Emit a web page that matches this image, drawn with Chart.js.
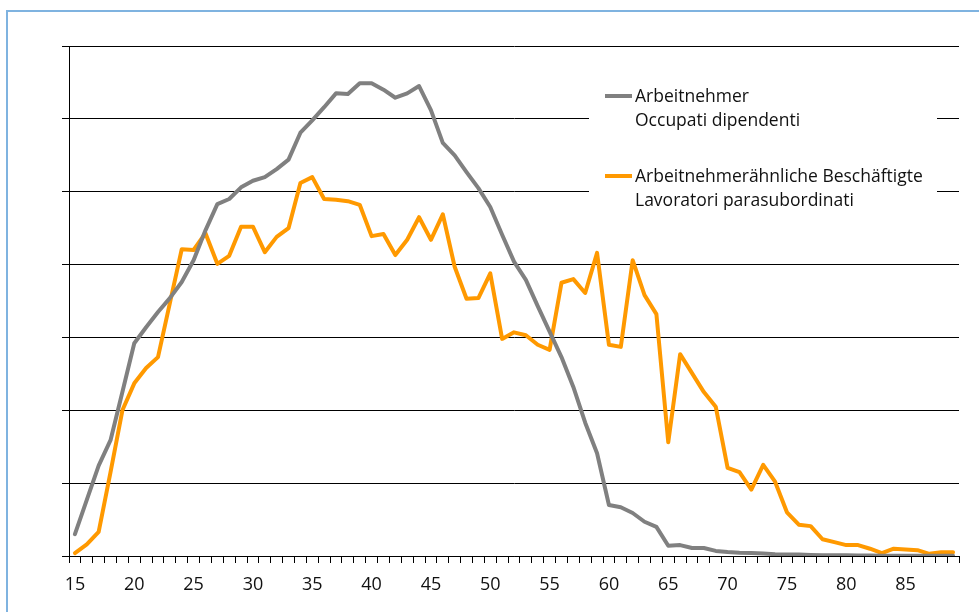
<!DOCTYPE html>
<html>
<head>
<meta charset="utf-8">
<script src="https://cdn.jsdelivr.net/npm/chart.js@4.4.1/dist/chart.umd.min.js"></script>
<style>
  html, body { margin: 0; padding: 0; background: #fff; }
  #wrap { position: relative; width: 979px; height: 612px; overflow: hidden; background: #fff; }
  #frame { position: absolute; left: 6px; top: 10px; width: 1100px; height: 800px; border: 2px solid #7fb3e0; box-sizing: border-box; }
  canvas { position: absolute; left: 0; top: 0; }
</style>
</head>
<body>
<div id="wrap">
  <div id="frame"></div>
  <canvas id="c" width="979" height="612"></canvas>
</div>
<script>
const ages = [];
for (let a = 15; a <= 89; a++) ages.push(String(a));

const tickLabels = ['15','20','25','30','35','40','45','50','55','60','65','70','75','80','85'];

const seriesNames = [
  ['Arbeitnehmer', 'Occupati dipendenti'],
  ['Arbeitnehmerähnliche Beschäftigte', 'Lavoratori parasubordinati']
];

const arbeitnehmer = [
  0.30, 0.77, 1.24, 1.59, 2.25, 2.92, 3.14, 3.35, 3.54, 3.76,
  4.06, 4.47, 4.83, 4.90, 5.06, 5.15, 5.20, 5.31, 5.44, 5.81,
  5.98, 6.16, 6.35, 6.34, 6.49, 6.49, 6.40, 6.29, 6.35, 6.45,
  6.12, 5.67, 5.50, 5.27, 5.05, 4.79, 4.41, 4.04, 3.79, 3.43,
  3.08, 2.73, 2.32, 1.83, 1.41, 0.70, 0.67, 0.59, 0.47, 0.40,
  0.14, 0.15, 0.11, 0.11, 0.07, 0.055, 0.045, 0.04, 0.035, 0.025,
  0.02, 0.02, 0.015, 0.012, 0.01, 0.01, 0.008, 0.006, 0.005, 0.004,
  0.003, 0.003, 0.002, 0.002, 0.002
];

const parasubordinati = [
  0.04, 0.16, 0.33, 1.15, 2.00, 2.37, 2.58, 2.73, 3.47, 4.21,
  4.20, 4.43, 4.01, 4.12, 4.52, 4.52, 4.17, 4.38, 4.50, 5.12,
  5.20, 4.90, 4.89, 4.87, 4.82, 4.39, 4.42, 4.13, 4.34, 4.65,
  4.34, 4.69, 3.97, 3.53, 3.54, 3.88, 2.98, 3.07, 3.03, 2.90,
  2.83, 3.75, 3.80, 3.61, 4.16, 2.90, 2.87, 4.06, 3.58, 3.32,
  1.56, 2.77, 2.51, 2.25, 2.05, 1.21, 1.15, 0.91, 1.25, 1.02,
  0.60, 0.43, 0.41, 0.23, 0.19, 0.15, 0.15, 0.10, 0.04, 0.10,
  0.09, 0.08, 0.03, 0.05, 0.05
];

const colors = ['#808080', '#ff9900'];
const FONT = '"Open Sans", "Noto Sans", sans-serif';

const legendPlugin = {
  id: 'insideLegend',
  beforeDatasetsDraw(chart) {
    const ctx = chart.ctx;
    ctx.save();
    ctx.fillStyle = '#fff';
    ctx.fillRect(589, 78, 348, 140);
    ctx.restore();
  },
  afterDraw(chart) {
    const ctx = chart.ctx;
    ctx.save();
    ctx.font = '17.5px ' + FONT;
    ctx.textBaseline = 'alphabetic';
    ctx.fillStyle = '#111';
    const entries = [
      { y: 96, color: colors[0], lines: seriesNames[0] },
      { y: 176, color: colors[1], lines: seriesNames[1] }
    ];
    entries.forEach(e => {
      ctx.strokeStyle = e.color;
      ctx.lineWidth = 4;
      ctx.beginPath();
      ctx.moveTo(605, e.y);
      ctx.lineTo(632, e.y);
      ctx.stroke();
      ctx.fillText(e.lines[0], 635, e.y + 6);
      ctx.fillText(e.lines[1], 635, e.y + 30);
    });
    ctx.restore();
  }
};

new Chart(document.getElementById('c'), {
  type: 'line',
  data: {
    labels: ages,
    datasets: [
      { label: seriesNames[0].join(' '), data: arbeitnehmer, borderColor: colors[0], borderWidth: 4, pointRadius: 0, tension: 0, borderJoinStyle: 'round', borderCapStyle: 'round', fill: false },
      { label: seriesNames[1].join(' '), data: parasubordinati, borderColor: colors[1], borderWidth: 4, pointRadius: 0, tension: 0, borderJoinStyle: 'round', borderCapStyle: 'round', fill: false }
    ]
  },
  options: {
    responsive: false,
    animation: false,
    layout: { padding: { left: 0, top: 46, right: 20, bottom: 0 } },
    plugins: { legend: { display: false }, tooltip: { enabled: false } },
    scales: {
      x: {
        type: 'category',
        offset: true,
        grid: { offset: true, drawOnChartArea: false, drawTicks: true, tickLength: 7, color: '#000', lineWidth: 1 },
        border: { display: true, color: '#000', width: 1 },
        ticks: {
          autoSkip: false, maxRotation: 0, minRotation: 0, padding: 11,
          color: '#111', font: { family: FONT, size: 18 },
          callback: function(v, i) { const l = this.getLabelForValue(v); return tickLabels.includes(l) ? l : ''; }
        },
        afterFit: s => { s.height = 56; }
      },
      y: {
        min: 0, max: 7,
        grid: { color: '#000', lineWidth: 1, drawTicks: true, tickLength: 7 },
        border: { display: true, color: '#000', width: 1 },
        ticks: { stepSize: 1, callback: () => '', padding: 0 },
        afterFit: s => { s.width = 69; }
      }
    }
  },
  plugins: [legendPlugin]
});
</script>
</body>
</html>
